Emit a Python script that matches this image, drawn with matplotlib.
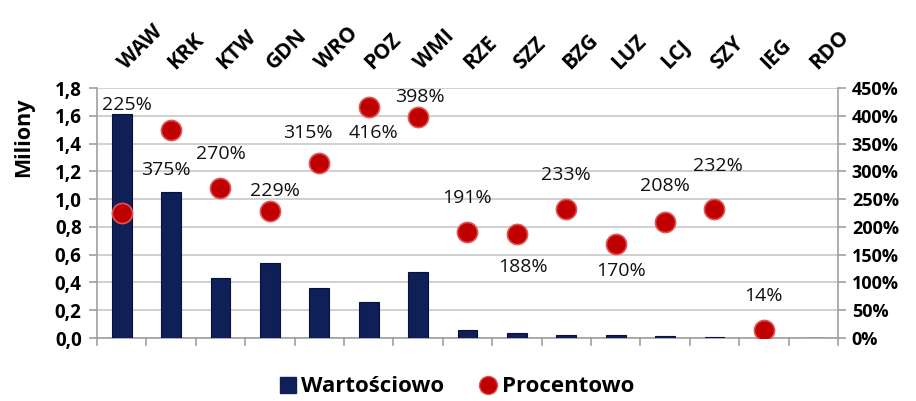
import matplotlib
matplotlib.use("Agg")
import matplotlib.pyplot as plt
from matplotlib.lines import Line2D
from matplotlib.ticker import FuncFormatter, MultipleLocator
import numpy as np

plt.rcParams['font.family'] = ['Open Sans', 'DejaVu Sans']

categories = ['WAW', 'KRK', 'KTW', 'GDN', 'WRO', 'POZ', 'WMI', 'RZE', 'SZZ',
              'BZG', 'LUZ', 'LCJ', 'SZY', 'IEG', 'RDO']
values_mln = [1.616, 1.053, 0.43, 0.54, 0.36, 0.26, 0.473, 0.058, 0.036,
              0.022, 0.020, 0.012, 0.006, 0.0, 0.0]
percent = [225, 375, 270, 229, 315, 416, 398, 191, 188, 233, 170, 208, 232, 14, np.nan]
# label offsets in pixels (dx, dy) for the percentage labels
label_offsets = [(5, 108), (-5, -40), (0, 34), (5, 20), (-11, 30), (5, -26), (2, 20),
                 (0, 34), (6, -33), (0, 34), (5, -27), (0, 36), (3, 43), (0, 34), (0, 0)]

fig = plt.figure(figsize=(9.16, 4.01), dpi=100)
ax = fig.add_axes([0.1059, 0.1571, 0.8089, 0.6234])
x = np.arange(len(categories))

ax.bar(x, values_mln, width=0.4, color='#0f1f57', edgecolor='#08123a', linewidth=0.8, zorder=3)
ax.set_xlim(-0.5, len(categories) - 0.5)
ax.set_ylim(0, 1.8)
ax.yaxis.set_major_locator(MultipleLocator(0.2))
ax.yaxis.set_major_formatter(FuncFormatter(lambda v, p: f"{v:.1f}".replace('.', ',')))
ax.grid(axis='y', color='#c8c8c8', linewidth=1.2, zorder=0)
ax.set_axisbelow(True)

# category labels on top
ax.xaxis.tick_top()
ax.set_xticks(x)
ax.set_xticklabels(categories, rotation=45, ha='left', va='center', rotation_mode='anchor',
                   fontsize=15, fontweight='bold')
ax.tick_params(axis='x', which='major', length=0, pad=16)
# bottom category boundary ticks
for b in np.arange(-0.5, len(categories) + 0.5, 1):
    ax.plot([b, b], [0, -0.05], color='#a0a0a0', lw=1.2, clip_on=False, zorder=1)

ax.spines['top'].set_visible(False)
ax.spines['left'].set_color('#a0a0a0')
ax.spines['bottom'].set_color('#a0a0a0')
ax.spines['right'].set_visible(False)
ax.spines['left'].set_linewidth(1.2)
ax.spines['bottom'].set_linewidth(1.2)
ax.tick_params(axis='y', labelsize=13.5, length=6, color='#a0a0a0', width=1.2, pad=5)
for t in ax.get_yticklabels():
    t.set_fontweight('bold')

ax2 = ax.twinx()
ax2.set_ylim(0, 450)
ax2.yaxis.set_major_locator(MultipleLocator(50))
ax2.yaxis.set_major_formatter(FuncFormatter(lambda v, p: f"{int(v)}%"))
ax2.tick_params(axis='y', labelsize=13, length=6, color='#a0a0a0', width=1.2, pad=4)
for t in ax2.get_yticklabels():
    t.set_fontweight('bold')
for s in ['top', 'left', 'bottom']:
    ax2.spines[s].set_visible(False)
ax2.spines['right'].set_color('#a0a0a0')
ax2.spines['right'].set_linewidth(1.2)

ax2.scatter(x, percent, s=210, color='#c00000', edgecolor='#e05555', linewidth=1.2, zorder=5)
for xi, p, (dx, dy) in zip(x, percent, label_offsets):
    if np.isnan(p):
        continue
    ax2.annotate(f"{int(p)}%", (xi, p), xytext=(dx, dy), textcoords='offset pixels',
                 ha='center', va='center', fontsize=14, color='#111111', zorder=6)

fig.text(0.026, 0.658, 'Miliony', rotation=90, ha='center', va='center',
         fontsize=15.5, fontweight='bold')

handles = [Line2D([], [], marker='s', color='#0f1f57', linestyle='none', markersize=12),
           Line2D([], [], marker='o', color='#c00000', markeredgecolor='#e05555',
                  linestyle='none', markersize=13)]
leg = fig.legend(handles, ['Wartościowo', 'Procentowo'], loc='center', bbox_to_anchor=(0.497, 0.035),
                 ncol=2, frameon=False, prop={'size': 16, 'weight': 'bold'},
                 handletextpad=0.1, columnspacing=1.5, handlelength=1.0)

fig.savefig('out.png', dpi=100)
